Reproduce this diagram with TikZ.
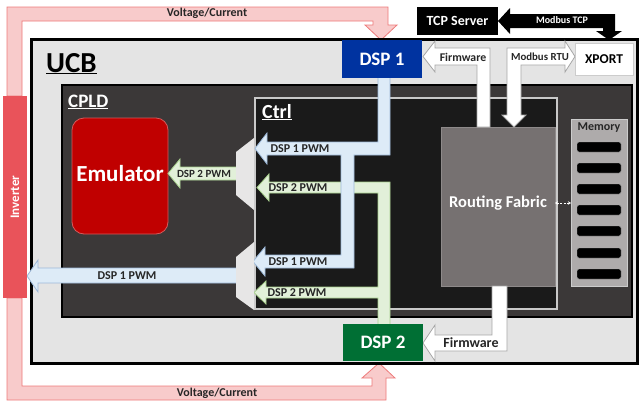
\documentclass[tikz,border=0pt]{standalone}
\usepackage{fontspec}
\setmainfont{Carlito}
\usetikzlibrary{arrows.meta}
\definecolor{pinkf}{HTML}{F8CBCB}
\definecolor{pinkd}{HTML}{EE7B7B}
\definecolor{invred}{HTML}{E9535A}
\definecolor{ucbgray}{HTML}{E4E4E4}
\definecolor{cpldgray}{HTML}{3B3838}
\definecolor{ctrlblk}{HTML}{1A1A1A}
\definecolor{ctrlbd}{HTML}{C9C9C9}
\definecolor{emured}{HTML}{C00000}
\definecolor{emubd}{HTML}{D45A5A}
\definecolor{bluef}{HTML}{DDEBF7}
\definecolor{blued}{HTML}{9DB9DA}
\definecolor{greenf}{HTML}{E2F0D9}
\definecolor{greend}{HTML}{A9D18E}
\definecolor{muxg}{HTML}{E7E6E6}
\definecolor{dspblue}{HTML}{0033A0}
\definecolor{dspgreen}{HTML}{006F34}
\definecolor{rfgray}{HTML}{767171}
\definecolor{rfbd}{HTML}{8E8A8A}
\definecolor{memgray}{HTML}{AEABAB}
\definecolor{txtdark}{HTML}{262626}
\definecolor{wbd}{HTML}{A6A6A6}
\begin{document}
\begin{tikzpicture}[x=1pt,y=-1pt,
  fs/.style={font=\bfseries\fontsize{#1}{#1}\selectfont},
  lbl/.style={fs=#1, inner sep=0, text=txtdark},
  wlbl/.style={fs=#1, inner sep=0, text=white},
  blk/.style={inner sep=0, outer sep=0},
  pinkarrow/.style={fill=pinkf, draw=pinkd, line width=0.8pt},
  bluearrow/.style={fill=bluef, draw=blued, line width=0.8pt},
  greenarrow/.style={fill=greenf, draw=greend, line width=0.8pt},
  whitearrow/.style={fill=white, draw=wbd, line width=0.8pt},
  muxshape/.style={fill=muxg, draw=none},
  slot/.style={fill=black, rounded corners=2pt, draw=gray!60, line width=0.4pt}
]
\useasboundingbox (0,0) rectangle (639,402);
\fill[white] (0,0) rectangle (639,402);

% Voltage/Current feedback bands
\filldraw[pinkarrow] (7,96) -- (7,7) -- (388,7) -- (388,25) -- (397,25) -- (381,40) -- (365,25) -- (373,25) -- (373,21) -- (22,21) -- (22,96) -- cycle;
\filldraw[pinkarrow] (7,298) -- (7,400) -- (386,400) -- (386,378) -- (395,378) -- (379,363) -- (362,378) -- (372,378) -- (372,386) -- (22,386) -- (22,298) -- cycle;
\node[lbl=12] (vc1) at (207,13) {Voltage/Current};
\node[lbl=12] (vc2) at (217,393) {Voltage/Current};

% Modbus TCP
\fill[black] (498,21) -- (510,8) -- (510,14) -- (615,14) -- (615,31) -- (622,31) -- (609,40) -- (596,31) -- (603,31) -- (603,28) -- (510,28) -- (510,34) -- cycle;
\node[wlbl=10] (mtcp) at (562,20.5) {Modbus TCP};
\node[blk, fill=black, minimum width=81, minimum height=28] (tcp) at (457.5,21) {};
\node[wlbl=14] at (tcp.center) {TCP Server};

% UCB
\node[blk, draw=black, line width=3pt, fill=ucbgray, minimum width=606, minimum height=324, anchor=north west] (ucb) at (31,39) {};
\node[fs=29, inner sep=0, anchor=base west] (ucbl) at (46,72) {\underline{UCB}};

% CPLD
\node[blk, draw=black, line width=2pt, fill=cpldgray, minimum width=570, minimum height=232, anchor=north west] (cpld) at (62,85) {};
\node[fs=19, inner sep=0, anchor=base west, text=white] (cpldl) at (68,107) {\underline{CPLD}};

% Ctrl
\node[blk, draw=ctrlbd, line width=1.5pt, fill=ctrlblk, minimum width=302, minimum height=211, anchor=north west] (ctrl) at (255,98) {};
\node[fs=20, inner sep=0, anchor=base west, text=white] (ctrll) at (262,118) {\underline{Ctrl}};

% Emulator
\node[blk, fill=emured, draw=emubd, line width=0.8pt, rounded corners=12pt, minimum width=96, minimum height=116] (emu) at (120,176) {};
\node[wlbl=23] at (120,174) {Emulator};

% Routing fabric
\node[blk, fill=rfgray, draw=rfbd, line width=0.8pt, minimum width=114, minimum height=159] (rf) at (498,206.5) {};
\node[wlbl=16.5] at (498,203) {Routing Fabric};

% Memory
\node[blk, fill=memgray, draw=gray!40, line width=0.5pt, minimum width=56, minimum height=167] (mem) at (599,202.5) {};
\node[lbl=12] at (599,127.5) {Memory};
\foreach \yy in {147,168,189,210,231,253,274}
  \node[slot, minimum width=44, minimum height=10, inner sep=0] at (599,\yy) {};
\draw[white, dash pattern=on 2pt off 1.5pt, line width=0.7pt, {Stealth[length=3pt,width=3.5pt]}-{Stealth[length=3pt,width=3.5pt]}] (rf.east |- 0,203) -- (mem.west |- 0,203);

% Green DSP2 PWM paths
\filldraw[greenarrow] (378,326) -- (378,298) -- (266,298) -- (266,304) -- (254,292.5) -- (266,281) -- (266,287) -- (378,287) -- (378,193) -- (269,193) -- (269,201) -- (257,187.5) -- (269,174) -- (269,182) -- (390,182) -- (390,326) -- cycle;
% Blue DSP1 PWM paths
\filldraw[bluearrow] (378,76) -- (378,142) -- (267,142) -- (267,133) -- (255,148.5) -- (267,164) -- (267,155) -- (341,155) -- (341,255) -- (265,255) -- (265,247) -- (253,261.5) -- (265,276) -- (265,268) -- (354,268) -- (354,155) -- (390,155) -- (390,76) -- cycle;
\node[lbl=12] at (300,148.5) {DSP 1 PWM};
\node[lbl=12] at (298,187.5) {DSP 2 PWM};
\node[lbl=12] at (298,261.5) {DSP 1 PWM};
\node[lbl=12] at (297,292.5) {DSP 2 PWM};

% Emulator input arrow
\filldraw[greenarrow] (238,167) -- (180,167) -- (180,159) -- (168,173.5) -- (180,188) -- (180,180) -- (238,180) -- cycle;
\node[lbl=11] at (204,173.5) {DSP 2 PWM};
% Inverter arrow
\filldraw[bluearrow] (238,268) -- (38,268) -- (38,260) -- (27,276) -- (38,292) -- (38,283) -- (238,283) -- cycle;
\node[lbl=12] at (127,275.5) {DSP 1 PWM};

% Muxes
\fill[muxshape] (236,152) -- (254,138) -- (254,210) -- (236,195) -- cycle;
\fill[muxshape] (236,257) -- (254,242) -- (254,310) -- (236,297) -- cycle;

% Firmware / Modbus RTU arrows
\filldraw[whitearrow] (423,56.5) -- (435,41) -- (435,48) -- (490,48) -- (490,127) -- (477,127) -- (477,65) -- (435,65) -- (435,72) -- cycle;
\node[lbl=11.8] at (463,57) {Firmware};
\filldraw[whitearrow] (514,127) -- (526,115) -- (521,115) -- (521,65) -- (565,65) -- (565,72) -- (575,56.5) -- (565,41) -- (565,48) -- (507,48) -- (507,115) -- (502,115) -- cycle;
\node[lbl=10.8] at (540,57) {Modbus RTU};
\filldraw[whitearrow] (423,343) -- (435,325) -- (435,335) -- (492,335) -- (492,286) -- (507,286) -- (507,351) -- (435,351) -- (435,361) -- cycle;
\node[lbl=14] at (471,343) {Firmware};

% DSP boxes
\node[blk, fill=dspblue, minimum width=80, minimum height=38] (dsp1) at (382,59) {};
\node[wlbl=19] at (dsp1.center) {DSP 1};
\node[blk, fill=dspgreen, minimum width=80, minimum height=37] (dsp2) at (383,342.5) {};
\node[wlbl=19] at (dsp2.center) {DSP 2};

% XPORT
\node[blk, fill=white, draw=gray!40, line width=0.5pt, minimum width=58, minimum height=32] (xport) at (604,59) {};
\node[lbl=13.5, text=black] at (xport.center) {XPORT};

% Inverter
\node[blk, fill=invred, minimum width=24, minimum height=202] (inv) at (15,197) {};
\node[wlbl=13, rotate=90] at (inv.center) {Inverter};
\end{tikzpicture}
\end{document}
